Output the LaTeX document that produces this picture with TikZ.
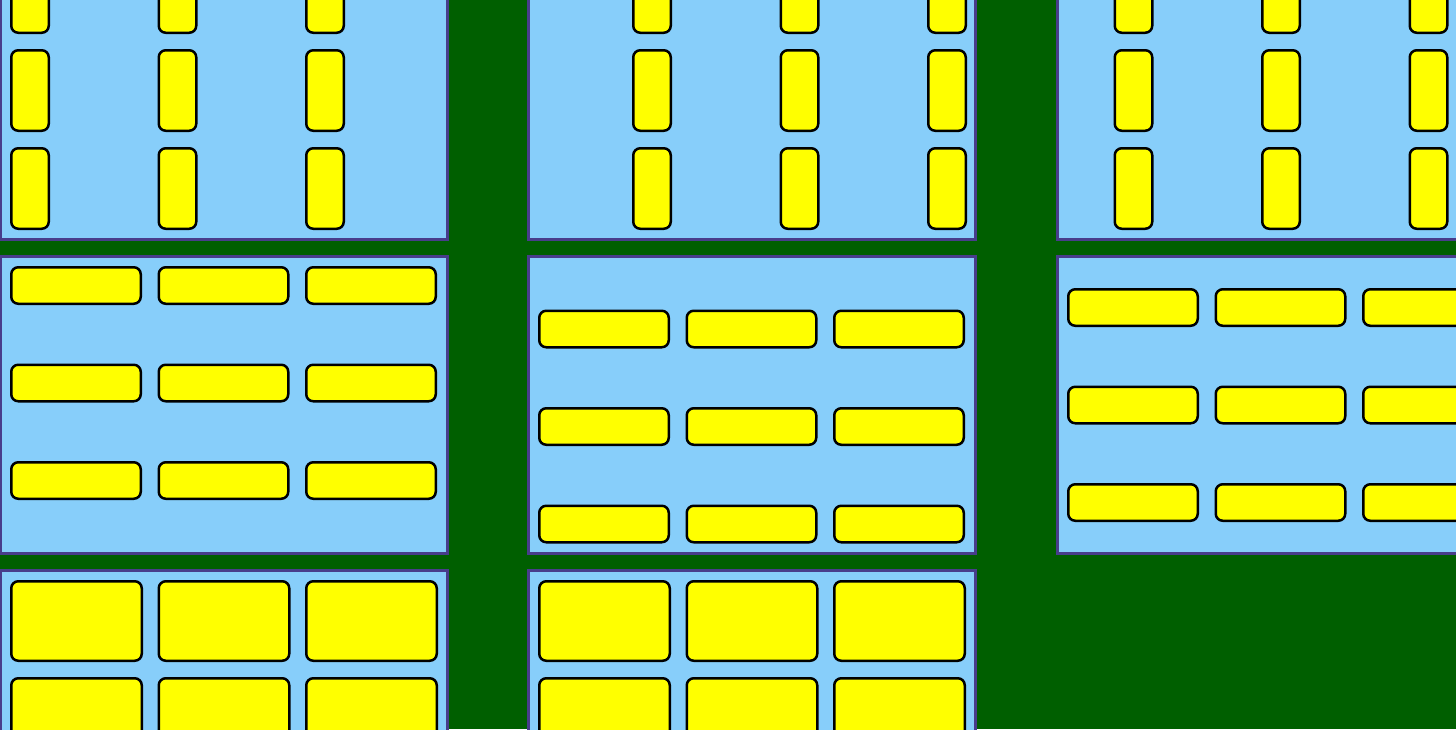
\documentclass[tikz,border=0pt]{standalone}
\usepackage{xcolor}
\usepackage{tikz}
\definecolor{bggreen}{HTML}{005F00}
\definecolor{boxblue}{HTML}{87CEFA}
\definecolor{boxedge}{HTML}{483D8B}
\definecolor{baryellow}{RGB}{255,255,0}
\begin{document}
\begin{tikzpicture}[x=1pt,y=-1pt,
panel/.style={fill=boxblue,draw=boxedge,line width=3pt},
bar/.style={fill=baryellow,draw=black,line width=2.5pt,rounded corners=7pt}]
\useasboundingbox(0,0)rectangle(1456,729);
\clip(0,0)rectangle(1456,729);
\fill[bggreen](0,0)rectangle(1456,729);
% panels
\foreach \px in {-1,527,1056}
\foreach \py in {-59,255}
\draw[panel](\px+1.5,\py+1.5)rectangle(\px+448.5,\py+298.5);
\foreach \px in {-1,527}
\draw[panel](\px+1.5,570.5)rectangle(\px+448.5,867.5);
% top row: tall bars
\foreach \px/\dx in {-1/11,527/105,1056/57.5}
\foreach \i in {0,1,2}
\foreach \j in {0,1,2}
\draw[bar](\px+\dx+\i*147.5+1.25,-49+\j*98+1.25)rectangle++(37.5,80.5);
% middle row: flat bars
\foreach \px/\by in {-1/266,527/309.5,1056/288}
\foreach \i in {0,1,2}
\foreach \j in {0,1,2}
\draw[bar](\px+11+\i*147.5+1.25,\by+\j*97.5+1.25)rectangle++(129.5,36.5);
% bottom row: big bars
\foreach \px in {-1,527}
\foreach \i in {0,1,2}
\foreach \j in {0,1}
\draw[bar](\px+11+\i*147.5+1.25,580+\j*97+1.25)rectangle++(130.5,79.5);
\end{tikzpicture}
\end{document}
